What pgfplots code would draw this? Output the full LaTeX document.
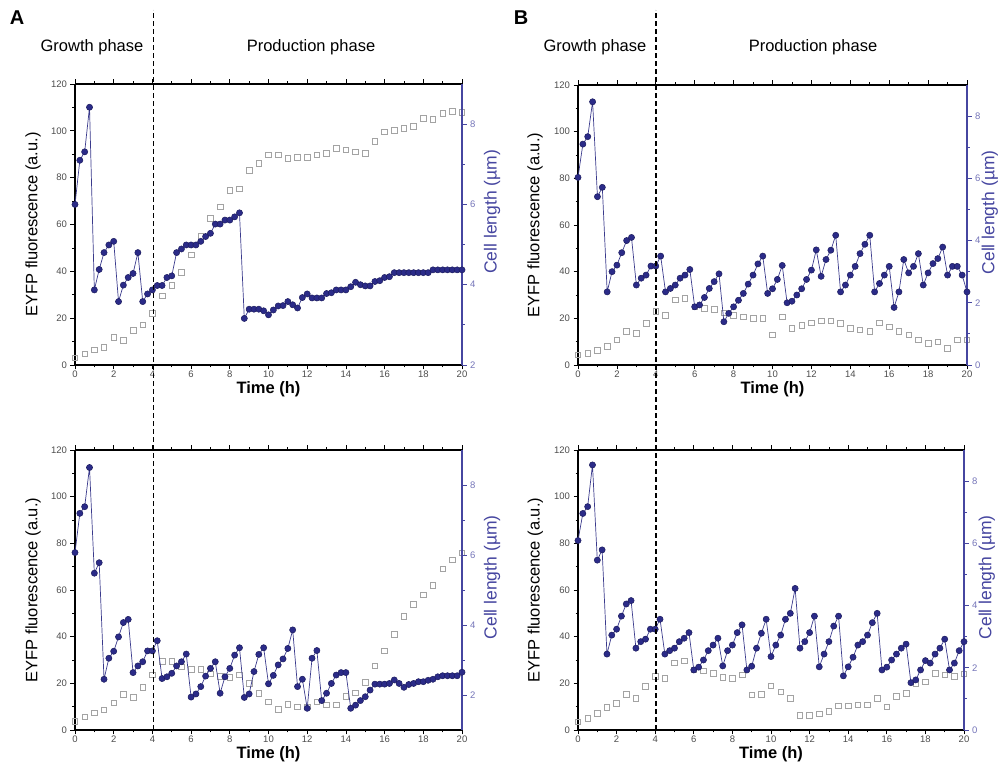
\documentclass[border=0pt]{standalone}
\usepackage{fontspec}
\setmainfont{Liberation Sans}
\usepackage{pgfplots}
\pgfplotsset{compat=1.18}
\usepackage{pgfplotstable}

\definecolor{cellblue}{HTML}{2B2B88}
\definecolor{celledge}{HTML}{1C1C5E}
\definecolor{celline}{HTML}{3A3A8C}
\definecolor{axisblue}{HTML}{4646A0}
\definecolor{eyfpgray}{HTML}{A3A3A3}

% ---------- cell length (right axis), sampled every 15 min ----------
\pgfplotstableread{
t L
0 6.00
0.25 7.10
0.5 7.31
0.75 8.42
1 3.87
1.25 4.38
1.5 4.80
1.75 4.99
2 5.08
2.25 3.58
2.5 3.99
2.75 4.18
3 4.28
3.25 4.80
3.5 3.58
3.75 3.77
4 3.87
4.25 3.98
4.5 3.98
4.75 4.18
5 4.22
5.25 4.80
5.5 4.89
5.75 4.99
6 4.99
6.25 4.99
6.5 5.08
6.75 5.20
7 5.28
7.25 5.51
7.5 5.51
7.75 5.61
8 5.61
8.25 5.69
8.5 5.79
8.75 3.16
9 3.39
9.25 3.39
9.5 3.39
9.75 3.35
10 3.25
10.25 3.37
10.5 3.47
10.75 3.48
11 3.58
11.25 3.50
11.5 3.42
11.75 3.68
12 3.77
12.25 3.67
12.5 3.67
12.75 3.67
13 3.78
13.25 3.80
13.5 3.87
13.75 3.87
14 3.87
14.25 3.95
14.5 4.06
14.75 4.00
15 3.97
15.25 3.97
15.5 4.08
15.75 4.10
16 4.18
16.25 4.20
16.5 4.30
16.75 4.30
17 4.30
17.25 4.30
17.5 4.30
17.75 4.30
18 4.30
18.25 4.30
18.5 4.37
18.75 4.37
19 4.37
19.25 4.37
19.5 4.37
19.75 4.37
20 4.37
}\Atopblue

\pgfplotstableread{
t L
0 6.07
0.25 7.19
0.5 7.38
0.75 8.50
1 5.48
1.25 5.78
1.5 2.45
1.75 3.05
2 3.25
2.25 3.66
2.5 4.07
2.75 4.16
3 2.64
3.25 2.83
3.5 2.95
3.75 3.26
4 3.26
4.25 3.55
4.5 2.47
4.75 2.52
5 2.62
5.25 2.83
5.5 2.95
5.75 3.17
6 1.94
6.25 2.03
6.5 2.24
6.75 2.54
7 2.76
7.25 2.95
7.5 2.05
7.75 2.52
8 2.76
8.25 3.14
8.5 3.35
8.75 1.93
9 2.03
9.25 2.67
9.5 3.16
9.75 3.35
10 2.32
10.25 2.56
10.5 2.86
10.75 3.03
11 3.33
11.25 3.86
11.5 2.24
11.75 2.45
12 1.62
12.25 3.05
12.5 3.27
12.75 1.84
13 2.05
13.25 2.33
13.5 2.57
13.75 2.64
14 2.64
14.25 1.62
14.5 1.71
14.75 1.84
15 1.95
15.25 2.14
15.5 2.31
15.75 2.31
16 2.31
16.25 2.33
16.5 2.43
16.75 2.33
17 2.22
17.25 2.30
17.5 2.33
17.75 2.38
18 2.38
18.25 2.42
18.5 2.45
18.75 2.52
19 2.55
19.25 2.55
19.5 2.55
19.75 2.55
20 2.65
}\Abotblue

\pgfplotstableread{
t L
0 6.03
0.25 7.10
0.5 7.34
0.75 8.46
1 5.41
1.25 5.71
1.5 2.35
1.75 3.00
2 3.21
2.25 3.61
2.5 4.00
2.75 4.10
3 2.57
3.25 2.79
3.5 2.89
3.75 3.18
4 3.18
4.25 3.50
4.5 2.35
4.75 2.46
5 2.57
5.25 2.79
5.5 2.89
5.75 3.07
6 1.87
6.25 1.93
6.5 2.17
6.75 2.46
7 2.68
7.25 2.93
7.5 1.39
7.75 1.66
8 1.87
8.25 2.08
8.5 2.30
8.75 2.60
9 2.89
9.25 3.25
9.5 3.50
9.75 2.30
10 2.45
10.25 2.75
10.5 3.20
10.75 2.00
11 2.05
11.25 2.25
11.5 2.45
11.75 2.75
12 3.05
12.25 3.70
12.5 2.85
12.75 3.39
13 3.69
13.25 4.17
13.5 2.35
13.75 2.57
14 2.89
14.25 3.17
14.5 3.58
14.75 3.88
15 4.17
15.25 2.35
15.5 2.62
15.75 2.89
16 3.17
16.25 1.85
16.5 2.35
16.75 3.39
17 2.96
17.25 3.17
17.5 3.58
17.75 2.57
18 2.96
18.25 3.26
18.5 3.42
18.75 3.79
19 2.89
19.25 3.17
19.5 3.17
19.75 2.89
20 2.35
}\Btopblue

\pgfplotstableread{
t L
0 6.09
0.25 6.96
0.5 7.18
0.75 8.52
1 5.46
1.25 5.79
1.5 2.44
1.75 3.05
2 3.24
2.25 3.66
2.5 4.05
2.75 4.16
3 2.63
3.25 2.84
3.5 2.92
3.75 3.24
4 3.24
4.25 3.56
4.5 2.44
4.75 2.55
5 2.63
5.25 2.84
5.5 2.95
5.75 3.13
6 1.93
6.25 2.02
6.5 2.25
6.75 2.55
7 2.73
7.25 2.95
7.5 2.06
7.75 2.55
8 2.73
8.25 3.13
8.5 3.38
8.75 1.93
9 2.05
9.25 2.63
9.5 3.11
9.75 3.56
10 2.36
10.25 2.73
10.5 3.05
10.75 3.56
11 3.75
11.25 4.55
11.5 2.63
11.75 2.84
12 3.13
12.25 3.66
12.5 2.03
12.75 2.44
13 2.84
13.25 3.34
13.5 3.66
13.75 1.74
14 2.03
14.25 2.34
14.5 2.73
14.75 2.84
15 3.05
15.25 3.45
15.5 3.75
15.75 1.93
16 2.02
16.25 2.25
16.5 2.44
16.75 2.63
17 2.76
17.25 1.52
17.5 1.61
17.75 1.93
18 2.23
18.25 2.15
18.5 2.44
18.75 2.63
19 2.92
19.25 1.93
19.5 2.15
19.75 2.55
20 2.84
}\Bbotblue

% ---------- EYFP fluorescence (left axis), sampled every 30 min ----------
\pgfplotstableread{
t F
0 3.0
0.5 4.7
1 6.4
1.5 7.5
2 11.8
2.5 10.4
3 14.9
3.5 17.1
4 22.0
4.5 29.5
5 34.0
5.5 39.5
6 47.0
6.5 55.0
7 62.6
7.5 67.6
8 74.5
8.5 75.2
9 83.0
9.5 86.1
10 89.7
10.5 89.7
11 88.2
11.5 88.7
12 88.7
12.5 89.7
13 90.4
13.5 92.5
14 91.8
14.5 91.1
15 90.4
15.5 95.4
16 99.6
16.5 100.3
17 101.1
17.5 101.8
18 105.3
18.5 104.9
19 107.5
19.5 108.2
20 107.8
}\Atopgray

\pgfplotstableread{
t F
0 3.6
0.5 5.7
1 7.4
1.5 8.6
2 11.7
2.5 15.4
3 14.0
3.5 18.3
4 23.6
4.5 29.5
5 29.3
5.5 27.0
6 26.0
6.5 26.0
7 24.0
7.5 23.0
8 22.6
8.5 23.6
9 20.0
9.5 15.7
10 12.0
10.5 8.8
11 11.0
11.5 10.0
12 10.0
12.5 12.0
13 10.7
13.5 10.7
14 14.3
14.5 16.0
15 20.5
15.5 27.5
16 34.0
16.5 41.0
17 48.6
17.5 53.8
18 58.0
18.5 62.0
19 69.0
19.5 73.0
20 76.0
}\Abotgray

\pgfplotstableread{
t F
0 4.3
0.5 5.0
1 6.4
1.5 7.9
2 10.7
2.5 14.3
3 13.6
3.5 17.9
4 22.9
4.5 21.4
5 27.9
5.5 28.6
6 25.0
6.5 24.3
7 23.9
7.5 22.4
8 21.4
8.5 20.7
9 20.0
9.5 20.0
10 12.9
10.5 20.7
11 15.7
11.5 17.1
12 18.1
12.5 19.0
13 19.0
13.5 17.9
14 15.7
14.5 15.0
15 14.3
15.5 18.1
16 16.4
16.5 14.3
17 12.9
17.5 10.7
18 9.3
18.5 10.0
19 7.1
19.5 10.7
20 10.7
}\Btopgray

\pgfplotstableread{
t F
0 3.5
0.5 5.0
1 7.1
1.5 9.7
2 11.4
2.5 15.4
3 13.6
3.5 18.6
4 23.1
4.5 22.1
5 28.8
5.5 29.7
6 25.7
6.5 25.4
7 24.3
7.5 22.6
8 22.1
8.5 23.6
9 15.0
9.5 15.4
10 18.9
10.5 16.4
11 13.6
11.5 6.4
12 6.4
12.5 6.9
13 7.9
13.5 10.3
14 10.3
14.5 10.7
15 10.7
15.5 13.6
16 10.0
16.5 14.3
17 15.7
17.5 19.7
18 20.7
18.5 24.3
19 23.6
19.5 23.1
20 24.0
}\Bbotgray

\pgfplotsset{
  base/.style={
    scale only axis, anchor=south west, clip=false,
    xmin=0, xmax=20,
    tick align=outside,
    major tick length=4.5pt, minor tick length=2.5pt,
    every tick/.style={line width=0.8pt},
    /pgf/number format/assume math mode=true,
    tick label style={font=\fontsize{9.5}{11}\selectfont, text=black!70},
    label style={font=\fontsize{16.5}{19}\selectfont},
  },
  leftax/.style={
    base,
    axis y line*=left, axis x line*=box,
    axis line style={line width=1.1pt},
    ymin=0, ymax=120, ytick={0,20,...,120}, minor y tick num=1,
    xtick={0,2,...,20}, minor x tick num=1,
    xticklabel style={yshift=2pt},
    xlabel={\bfseries Time (h)},
    ylabel={EYFP fluorescence (a.u.)},
    xlabel style={at={(axis description cs:0.5,-0.087)}, anchor=center},
    ylabel style={at={(axis description cs:#1,0.5)}, anchor=center, rotate=0},
  },
  rightax/.style={
    base,
    axis y line*=right, axis x line=none,
    y axis line style={axisblue, line width=1.1pt},
    ytick style={axisblue},
    yticklabel style={text=axisblue!75},
    minor y tick num=1,
    ylabel={Cell length (µm)},
    ylabel style={at={(axis description cs:#1,0.545)}, anchor=center,
      text=axisblue, font=\fontsize{17.5}{20}\selectfont},
  },
  eyfp/.style={only marks, mark=square, mark size=2.8pt,
    mark options={draw=eyfpgray, line width=0.7pt}},
  cell/.style={celline, line width=0.7pt, mark=*, mark size=3.1pt,
    mark options={fill=cellblue, draw=celledge, line width=0.5pt}},
}

\begin{document}
\begin{tikzpicture}
\path[use as bounding box] (0,0) rectangle (999pt,778pt);
\coordinate (topline) at (0pt,768pt);

% ----- panel A, upper -----
\begin{axis}[leftax=-0.1085, at={(75pt,413pt)}, width=387pt, height=281pt]
  \addplot[eyfp] table[x=t,y=F] {\Atopgray};
\end{axis}
\begin{axis}[rightax=1.0775, at={(75pt,413pt)}, width=387pt, height=281pt,
  ymin=2, ymax=9, ytick={2,4,6,8}]
  \addplot[cell] table[x=t,y=L] {\Atopblue};
\end{axis}

% ----- panel A, lower -----
\begin{axis}[leftax=-0.1085, at={(75pt,48pt)}, width=387pt, height=280pt]
  \addplot[eyfp] table[x=t,y=F] {\Abotgray};
  \coordinate (dA) at (axis cs:4.05,0);
\end{axis}
\begin{axis}[rightax=1.0775, at={(75pt,48pt)}, width=387pt, height=280pt,
  ymin=1, ymax=9, ytick={2,4,6,8}]
  \addplot[cell] table[x=t,y=L] {\Abotblue};
\end{axis}

% ----- panel B, upper -----
\begin{axis}[leftax=-0.1105, at={(578pt,413pt)}, width=389pt, height=280pt]
  \addplot[eyfp] table[x=t,y=F] {\Btopgray};
\end{axis}
\begin{axis}[rightax=1.059, at={(578pt,413pt)}, width=389pt, height=280pt,
  ymin=0, ymax=9, ytick={0,2,4,6,8}]
  \addplot[cell] table[x=t,y=L] {\Btopblue};
\end{axis}

% ----- panel B, lower -----
\begin{axis}[leftax=-0.1105, at={(578pt,48pt)}, width=386pt, height=280pt]
  \addplot[eyfp] table[x=t,y=F] {\Bbotgray};
  \coordinate (dB) at (axis cs:4.05,0);
\end{axis}
\begin{axis}[rightax=1.059, at={(578pt,48pt)}, width=386pt, height=280pt,
  ymin=0, ymax=9, ytick={0,2,4,6,8}]
  \addplot[cell] table[x=t,y=L] {\Bbotblue};
\end{axis}

% phase boundary at the end of growth
\draw[line width=1.6pt, dash pattern=on 5pt off 3pt] (dA) -- (dA |- topline);
\draw[line width=1.6pt, dash pattern=on 5pt off 3pt] (dB) -- (dB |- topline);

% panel letters and phase captions
\node[font=\fontsize{20}{22}\selectfont\bfseries] at (17pt,760pt) {A};
\node[font=\fontsize{20}{22}\selectfont\bfseries] at (521pt,760pt) {B};
\node[font=\fontsize{16.5}{19}\selectfont] at (92pt,731pt) {Growth phase};
\node[font=\fontsize{16.5}{19}\selectfont] at (311pt,731pt) {Production phase};
\node[font=\fontsize{16.5}{19}\selectfont] at (595pt,731pt) {Growth phase};
\node[font=\fontsize{16.5}{19}\selectfont] at (813pt,731pt) {Production phase};
\end{tikzpicture}
\end{document}
